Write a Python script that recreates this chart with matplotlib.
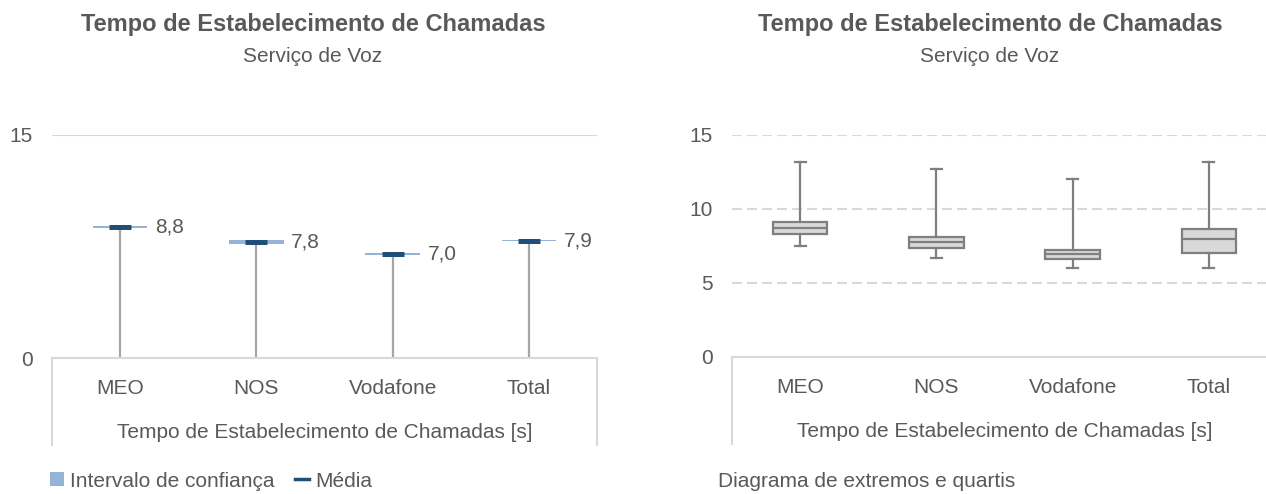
import matplotlib as mpl
mpl.use("Agg")
import matplotlib.pyplot as plt
from matplotlib.lines import Line2D
from matplotlib.patches import Patch
import numpy as np

# =============================================================================
# Data
# =============================================================================
categories = ["MEO", "NOS", "Vodafone", "Total"]

# left: mean with confidence interval
mean_values = [8.8, 7.8, 7.0, 7.9]
mean_labels = ["8,8", "7,8", "7,0", "7,9"]
ci_low = [8.73, 7.69, 6.94, 7.85]
ci_high = [8.87, 7.91, 7.06, 7.95]

# right: box plot stats
box_min = [7.51, 6.70, 5.99, 5.99]
box_q1 = [8.32, 7.38, 6.64, 7.06]
box_median = [8.72, 7.74, 6.93, 7.96]
box_q3 = [9.13, 8.12, 7.22, 8.63]
box_max = [13.16, 12.67, 12.06, 13.16]

title = "Tempo de Estabelecimento de Chamadas"
subtitle = "Serviço de Voz"
axis_title = "Tempo de Estabelecimento de Chamadas [s]"

# =============================================================================
# Style
# =============================================================================
plt.rcParams['font.family'] = ['Liberation Sans', 'DejaVu Sans']
TXT = "#595959"
GRID = "#d9d9d9"
FS = 15
W, H, DPI = 1266, 494, 100

CI_COLOR = "#95b3d7"
MEAN_COLOR = "#1f4e79"
STEM_COLOR = "#a6a6a6"
BOX_EDGE = "#7f7f7f"
BOX_FILL = "#d9d9d9"

fig = plt.figure(figsize=(W / DPI, H / DPI), dpi=DPI)


def px_rect(x0, x1, y_top, y_bot):
    return [x0 / W, 1 - y_bot / H, (x1 - x0) / W, (y_bot - y_top) / H]


def style_axes(ax, yticks):
    x = np.arange(len(categories))
    ax.set_xlim(-0.5, len(categories) - 0.5)
    ax.set_ylim(0, 15)
    ax.set_yticks(yticks)
    ax.set_xticks(x, categories)
    ax.tick_params(axis="both", length=0, labelsize=FS, colors=TXT)
    ax.tick_params(axis="y", pad=14)
    ax.tick_params(axis="x", pad=15)
    ax.set_xlabel(axis_title, fontsize=FS, color=TXT, labelpad=18)
    for s in ["top", "right", "left"]:
        ax.spines[s].set_visible(False)
    ax.spines["bottom"].set_color(GRID)
    ax.spines["bottom"].set_linewidth(1.5)
    # category box lines below the axis
    for xx in (0, 1):
        ax.add_line(Line2D([xx, xx], [0, -0.39], transform=ax.transAxes,
                           clip_on=False, color=GRID, lw=1.5))
    ax.set_axisbelow(True)


# =============================================================================
# Left: mean + confidence interval
# =============================================================================
ax1 = fig.add_axes(px_rect(52, 597, 135, 358))
x = np.arange(len(categories))
style_axes(ax1, [0, 15])
ax1.yaxis.grid(True, color=GRID, lw=1.5)

ax1.vlines(x, 0, mean_values, color=STEM_COLOR, lw=1.6, zorder=2)
ax1.bar(x, np.array(ci_high) - np.array(ci_low), bottom=ci_low, width=0.4,
        color=CI_COLOR, zorder=3)
ax1.hlines(mean_values, x - 0.08, x + 0.08, color=MEAN_COLOR, lw=3.6, zorder=4)
for xi, m, lab in zip(x, mean_values, mean_labels):
    ax1.annotate(lab, (xi, m), xytext=(35, 0), textcoords="offset pixels",
                 ha="left", va="center", fontsize=FS, color=TXT)

handles = [Patch(facecolor=CI_COLOR, edgecolor="none"),
           Line2D([0], [0], color=MEAN_COLOR, lw=2.5)]
fig.legend(handles, ["Intervalo de confiança", "Média"], loc="center left",
           bbox_to_anchor=(50 / W, 1 - 481 / H), ncol=2, frameon=False,
           fontsize=FS, labelcolor=TXT, handlelength=0.65, handleheight=0.65,
           handletextpad=0.3, columnspacing=1.0, borderaxespad=0, borderpad=0)

# =============================================================================
# Right: box plot
# =============================================================================
ax2 = fig.add_axes(px_rect(732, 1277, 135, 357))
style_axes(ax2, [0, 5, 10, 15])
ax2.yaxis.grid(True, color=GRID, lw=1.5, linestyle=(0, (4.8, 2.4)))
ax2.get_ygridlines()[0].set_visible(False)

stats = []
for i, c in enumerate(categories):
    stats.append(dict(label=c, whislo=box_min[i], q1=box_q1[i], med=box_median[i],
                      q3=box_q3[i], whishi=box_max[i]))
ax2.bxp(stats, positions=x, widths=0.4, capwidths=0.08, showfliers=False,
        patch_artist=True,
        boxprops=dict(facecolor=BOX_FILL, edgecolor=BOX_EDGE, lw=1.6),
        medianprops=dict(color=BOX_EDGE, lw=1.6),
        whiskerprops=dict(color=BOX_EDGE, lw=1.6),
        capprops=dict(color=BOX_EDGE, lw=1.6))
ax2.set_xticks(x, categories)
ax2.set_xlim(-0.5, len(categories) - 0.5)

fig.text(718 / W, 1 - 481 / H, "Diagrama de extremos e quartis", ha="left",
         va="center", fontsize=FS, color=TXT)

# =============================================================================
# Titles
# =============================================================================
for cx in (313, 990):
    fig.text(cx / W, 1 - 25 / H, title, ha="center", va="center",
             fontsize=17, fontweight="bold", color=TXT)
    fig.text(cx / W, 1 - 57 / H, subtitle, ha="center", va="center",
             fontsize=FS, color=TXT)

fig.savefig("out.png", dpi=DPI)
